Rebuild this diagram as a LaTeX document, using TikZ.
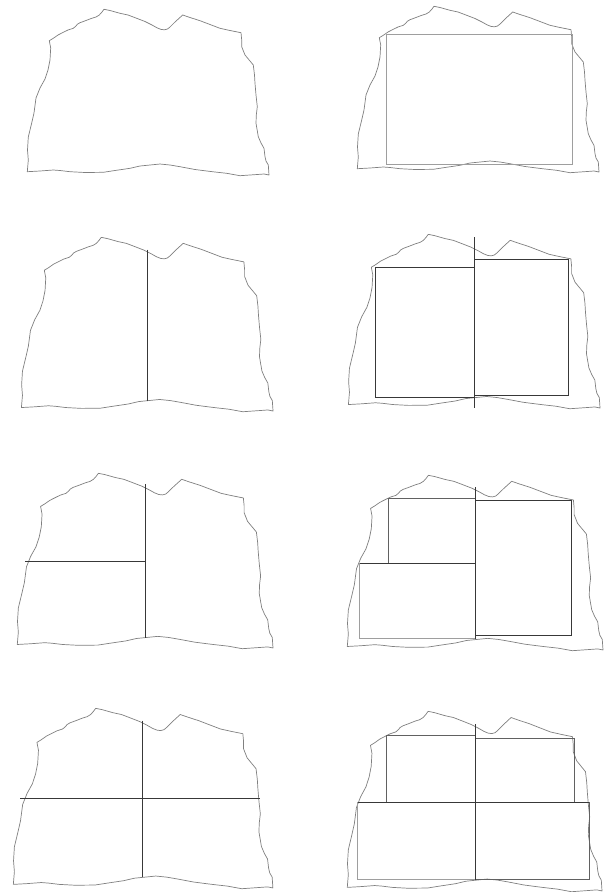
\documentclass[tikz,border=0pt]{standalone}
\usetikzlibrary{calc}
\tikzset{
  shapeline/.style={draw=black!50, line width=0.7pt, line join=round},
  darkline/.style={draw=black!78, line width=0.9pt},
  midline/.style={draw=black!62, line width=0.9pt},
  lightline/.style={draw=black!38, line width=0.9pt},
}
\newcommand{\tornpath}{(27.3,171.7) -- (28.3,160) -- (27.5,150) -- (28.3,137) -- (31.7,123) -- (34,113) -- (36,98) -- (40,88) -- (45,79) -- (48,70) -- (50,60) -- (50.7,48) -- (49.3,40.7) -- (53.3,38.3) -- (58,35) -- (63.3,32.3) -- (68,30) -- (73.3,28.3) -- (76,26) -- (77.3,24.3) -- (80,22.7) -- (86,20.5) -- (91.7,18.3) -- (96,17) -- (99.3,15) -- (102,12) -- (104,9.3) -- (110,10.5) -- (120,13.3) -- (128,15) -- (136.7,18.3) -- (145,21.5) -- (152,25) -- (157,27.8) -- (161,29.4) -- (164.5,29.8) -- (167.5,29) -- (170,27) -- (175,22) -- (182.7,15) -- (190,17.5) -- (200,20.7) -- (210,24.5) -- (220,28.3) -- (230,30.5) -- (241,32.7) -- (241.7,40) -- (241.7,46.7) -- (245,55) -- (250,61) -- (253.3,65) -- (254.5,75) -- (255,83.3) -- (256,95) -- (257.3,106.7) -- (256.3,115) -- (256,123.3) -- (258.3,136.7) -- (261,143) -- (264,148.3) -- (265,156.7) -- (266,161) -- (268.3,165) -- (269,175) -- (264,174) -- (260,174.3) -- (250,175) -- (240,175.7) -- (226.7,173.3) -- (215,172) -- (206.7,171) -- (195,169.5) -- (180,166.7) -- (170,165) -- (160,164) -- (150,165) -- (140,166) -- (130,168.3) -- (115,170.5) -- (103.3,172.3) -- (85,172.5) -- (70,171.7) -- (60,170.5) -- (53.3,170) -- (40,171) -- cycle}
\begin{document}
\begin{tikzpicture}[x=1pt,y=-1pt]
\useasboundingbox[fill=white] (0,0) rectangle (608,892);
% torn sheets
\begin{scope}[shift={(0,0)}]\draw[shapeline] \tornpath;\end{scope}
\begin{scope}[shift={(330,-3)}]\draw[shapeline] \tornpath;\end{scope}
\begin{scope}[shift={(-7,227.6)},xscale=1.041,yscale=1.048]\draw[shapeline] \tornpath;\end{scope}
\begin{scope}[shift={(320,224.6)},xscale=1.041,yscale=1.048]\draw[shapeline] \tornpath;\end{scope}
\begin{scope}[shift={(-11.6,463.5)},xscale=1.058,yscale=1.054]\draw[shapeline] \tornpath;\end{scope}
\begin{scope}[shift={(318.4,465.5)},xscale=1.058,yscale=1.054]\draw[shapeline] \tornpath;\end{scope}
\begin{scope}[shift={(-16,698.25)},xscale=1.074,yscale=1.084]\draw[shapeline] \tornpath;\end{scope}
\begin{scope}[shift={(318.5,701.25)},xscale=1.054,yscale=1.084]\draw[shapeline] \tornpath;\end{scope}
% panel 2
\draw[lightline] (386.7,34.7) rectangle (572.7,164.3);
% panel 3
\draw[darkline] (147,249.7) -- (147,401.3);
% panel 4
\draw[darkline] (375.7,267) rectangle (474,397);
\draw[darkline] (474,259.7) rectangle (568.3,395.7);
\draw[darkline] (474,237) -- (474,408);
% panel 5
\draw[darkline] (145.3,484.3) -- (145.3,638.3);
\draw[darkline] (25,561.3) -- (145.3,561.3);
% panel 6
\draw[midline] (388,563.3) -- (388,498.3) -- (475.3,498.3);
\draw[darkline] (359.3,563.3) -- (475.3,563.3);
\draw[lightline] (359.3,563.3) -- (359.3,638.7) -- (475.3,638.7);
\draw[darkline] (475.3,500.3) rectangle (571.7,635.3);
\draw[darkline] (475.3,487) -- (475.3,639.3);
% panel 7
\draw[darkline] (142.7,720.7) -- (142.7,877.3);
\draw[darkline] (20,798.7) -- (260,798.7);
% panel 8
\draw[midline] (386.7,802.3) -- (386.7,735.7) -- (475.3,735.7);
\draw[midline] (475.3,738) -- (574,738) -- (574,802.3);
\draw[darkline] (357.3,802.3) -- (589,802.3);
\draw[lightline] (357.3,802.3) -- (357.3,879.7) -- (475.3,879.7);
\draw[midline] (475.3,879.7) -- (589,879.7) -- (589,802.3);
\draw[darkline] (475.3,724) -- (475.3,879.7);
\end{tikzpicture}
\end{document}
